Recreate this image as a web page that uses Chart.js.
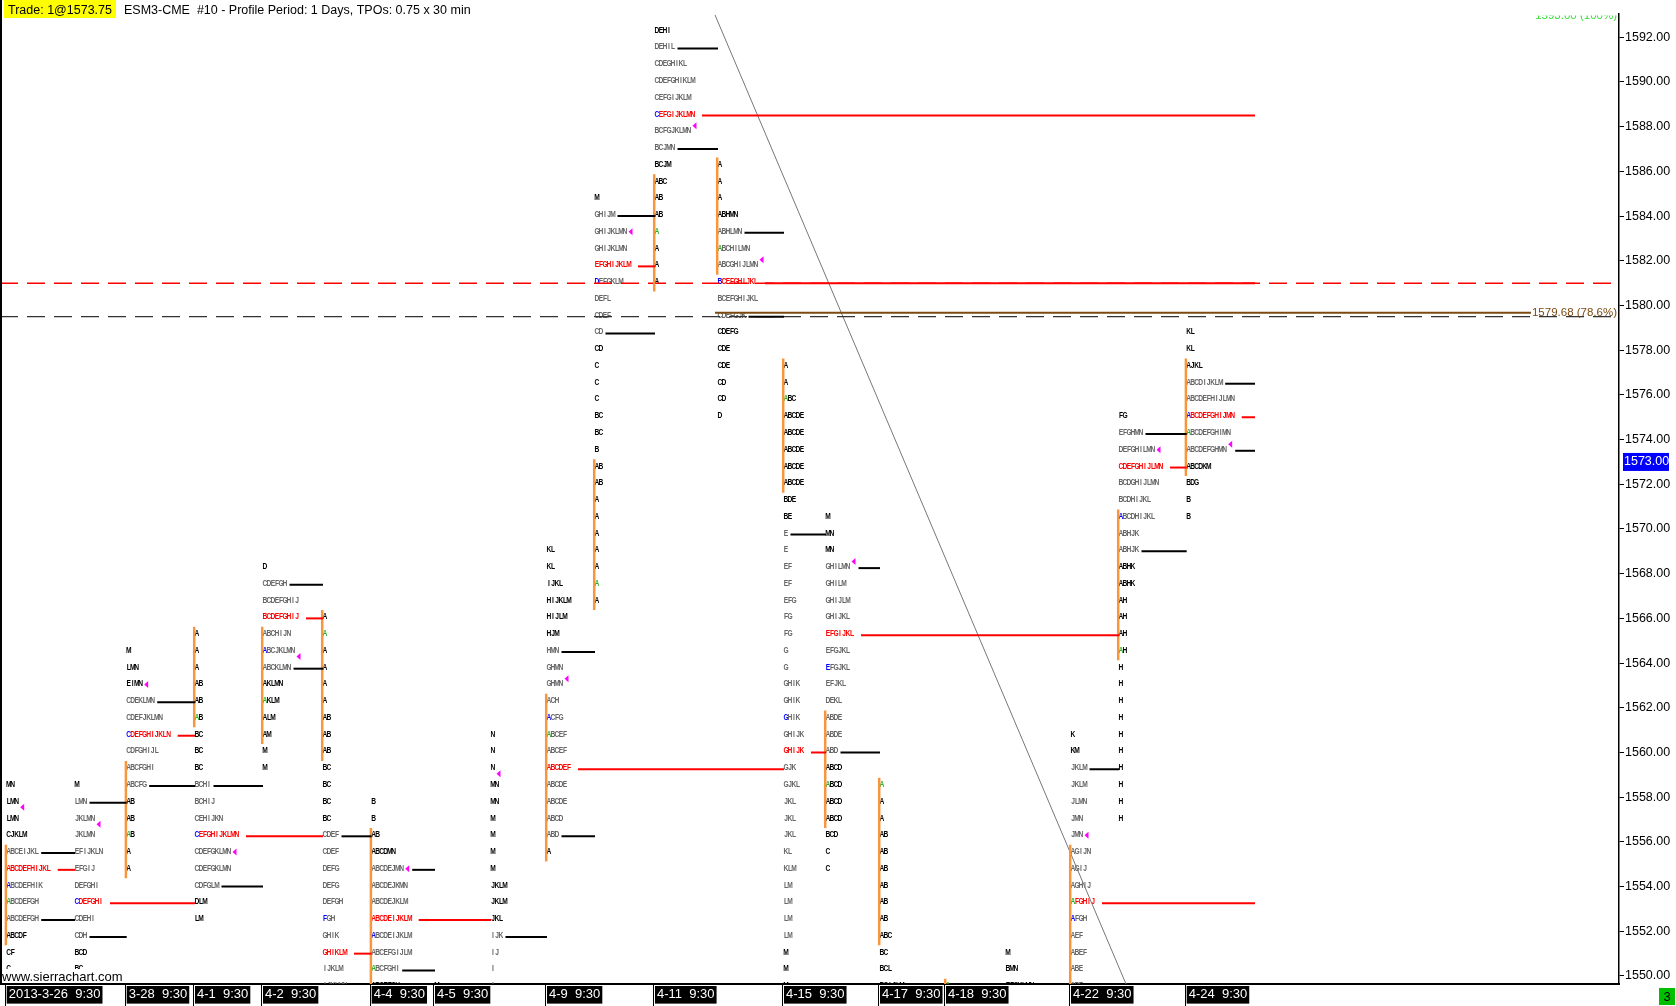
<!DOCTYPE html>
<html>
<head>
<meta charset="utf-8">
<title>ESM3-CME TPO profile</title>
<script src="https://cdn.jsdelivr.net/npm/chart.js@4.4.1/dist/chart.umd.min.js"></script>
<style>
html, body { margin: 0; padding: 0; background: #fff; overflow: hidden; }
canvas { display: block; }
</style>
</head>
<body>
<canvas id="tpo" width="1676" height="1006"></canvas>
<script>
// TPO rows of each day, listed from the top price down in 0.75 steps
const tpoSize = 0.75
const days = ['3-26','3-27','3-28','4-1','4-2','4-3','4-4','4-5','4-8','4-9','4-10','4-11','4-12','4-15','4-16','4-17','4-18','4-19','4-22','4-23','4-24']
const dayStart = [6.7, 75, 126.7, 195, 263, 323, 371.7, 435, 491, 547, 595, 655, 718, 784, 826, 880, 946, 1006, 1071, 1119, 1186.7]
const dayTop = [1558.5, 1558.5, 1564.5, 1565.25, 1568.25, 1566.0, 1557.75, 1549.5, 1560.75, 1569.0, 1584.75, 1592.25, 1586.25, 1577.25, 1570.5, 1558.5, 1549.5, 1551.0, 1560.75, 1575.0, 1578.75]
const dayRows = [
	['MN','LMN','LMN','CJKLM','ABCEIJKL','ABCDEFHIJKL','ABCDEFHIK','ABCDEFGH','ABCDEFGH','ABCDF','CF','C','C'],
	['M','LMN','JKLMN','JKLMN','EFIJKLN','EFGIJ','DEFGHI','CDEFGHI','CDEHI','CDH','BCD','BC','BC'],
	['M','LMN','EIMN','CDEKLMN','CDEFJKLMN','CDEFGHIJKLN','CDFGHIJL','ABCFGHI','ABCFG','AB','AB','AB','A','A'],
	['A','A','A','AB','AB','AB','BC','BC','BC','BCHI','BCHIJ','CEHIJKN','CEFGHIJKLMN','CDEFGKLMN','CDEFGKLMN','CDFGLM','DLM','LM'],
	['D','CDEFGH','BCDEFGHIJ','BCDEFGHIJ','ABCHIJN','ABCJKLMN','ABCKLMN','AKLMN','AKLM','ALM','AM','M','M'],
	['A','A','A','A','A','A','AB','AB','AB','BC','BC','BC','BC','CDEF','CDEF','DEFG','DEFG','DEFGH','FGH','GHIK','GHIKLM','IJKLM','IJKLMN'],
	['B','B','AB','ABCDMN','ABCDEJMN','ABCDEJKMN','ABCDEJKLM','ABCDEIJKLM','ABCDEIJKLM','ABCEFGIJLM','ABCFGHI','ABCEFGH'],
	['M','LM'],
	['N','N','N','MN','MN','M','M','M','M','JKLM','JKLM','JKL','IJK','IJ','I','I'],
	['KL','KL','IJKL','HIJKLM','HIJLM','HJM','HMN','GHMN','GHMN','ACH','ACFG','ABCEF','ABCEF','ABCDEF','ABCDE','ABCDE','ABCD','ABD','A'],
	['M','GHIJM','GHIJKLMN','GHIJKLMN','EFGHIJKLM','DEFGKLM','DEFL','CDEF','CD','CD','C','C','C','BC','BC','B','AB','AB','A','A','A','A','A','A','A'],
	['DEHI','DEHIL','CDEGHIKL','CDEFGHIKLM','CEFGIJKLM','CEFGIJKLMN','BCFGJKLMN','BCJMN','BCJM','ABC','AB','AB','A','A','A','A'],
	['A','A','A','ABHMN','ABHLMN','ABCHILMN','ABCGHIJLMN','BCEFGHIJKL','BCEFGHIJKL','CDEFGJK','CDEFG','CDE','CDE','CD','CD','D'],
	['A','A','ABC','ABCDE','ABCDE','ABCDE','ABCDE','ABCDE','BDE','BE','E','E','EF','EF','EFG','FG','FG','G','G','GHIK','GHIK','GHIK','GHIJK','GHIJK','GJK','GJKL','JKL','JKL','JKL','KL','KLM','LM','LM','LM','LM','M','M','M'],
	['M','MN','MN','GHILMN','GHILM','GHIJLM','GHIJKL','EFGIJKL','EFGJKL','EFGJKL','EFJKL','DEKL','ABDE','ABDE','ABD','ABCD','ABCD','ABCD','ABCD','BCD','C','C'],
	['A','A','A','AB','AB','AB','AB','AB','AB','ABC','BC','BCL','BCIJLM'],
	['A','A'],
	['M','BMN','EFGKLMN'],
	['K','KM','JKLM','JKLM','JLMN','JMN','JMN','AGIJN','AGIJ','AGHIJ','AFGHIJ','AFGH','AEF','ABEF','ABE','ABE'],
	['FG','EFGHMN','DEFGHILMN','CDEFGHIJLMN','BCDGHIJLMN','BCDHIJKL','ABCDHIJKL','ABHJK','ABHJK','ABHK','ABHK','AH','AH','AH','AH','H','H','H','H','H','H','H','H','H','H'],
	['KL','KL','AJKL','ABCDIJKLM','ABCDEFHIJLMN','ABCDEFGHIJMN','ABCDEFGHIMN','ABCDEFGHMN','ABCDKM','BDG','B','B']
]
// value area high / low, point of control, close (null = off the picture)
const dayVAH = [1555.5, 1557.75, 1562.25, 1558.5, 1567.5, 1556.25, 1554.75, null, 1551.75, 1564.5, 1584.0, 1591.5, 1583.25, 1569.75, 1568.25, null, null, null, 1559.25, 1574.25, 1576.5]
const dayVAL = [1552.5, 1551.75, 1558.5, 1554.0, 1563.75, null, 1550.25, null, null, 1556.25, 1578.75, 1587.0, 1579.5, 1551.75, 1560.0, null, null, null, null, 1569.0, 1573.5]
const dayPOC = [1554.75, 1553.25, 1560.75, 1556.25, 1566.0, 1551.0, 1552.5, null, null, 1559.25, 1581.75, 1588.5, 1581.0, 1560.0, 1565.25, null, null, null, 1553.25, 1572.75, 1575.0]
const dayClose = [1557.5, 1556.75, 1563.0, 1555.5, 1564.25, null, 1554.75, null, 1559.0, 1563.25, 1583.25, 1588.0, 1582.0, null, 1568.5, null, null, null, 1556.25, 1573.5, 1573.75]
const dayOpenRow = [1553.25, null, 1556.25, 1561.5, 1562.25, 1565.25, 1550.25, null, null, 1560.75, 1567.5, 1583.25, 1582.5, 1575.75, 1558.5, 1558.5, 1549.5, null, 1553.25, 1564.5, 1574.25]
const dayBlueRow = [1554.0, 1553.25, 1560.75, 1556.25, 1564.5, 1552.5, 1551.75, null, null, 1561.5, 1581.0, 1588.5, 1581.0, 1561.5, 1563.75, null, null, null, 1552.5, 1570.5, 1575.0]
const hiddenVALine = ['4-15']
const lastBarX = 1255

const axisDays = ['3-26','3-28','4-1','4-2','4-4','4-5','4-9','4-11','4-15','4-17','4-18','4-22','4-24']
const axisLabels = ['2013-3-26  9:30','3-28  9:30','4-1  9:30','4-2  9:30','4-4  9:30','4-5  9:30','4-9  9:30','4-11  9:30','4-15  9:30','4-17  9:30','4-18  9:30','4-22  9:30','4-24  9:30']
const priceTicks = [1550,1552,1554,1556,1558,1560,1562,1564,1566,1568,1570,1572,1574,1576,1578,1580,1582,1584,1586,1588,1590,1592]

const redDashPrice = 1581.0
const grayDashPrice = 1579.5
const fibFrom = {x: 715, y: 1593.00}
const fibTo = {x: 1305, y: 1530.76}
const fibTopText = '1593.00 (100%)'
const fibLevel = 1579.68
const fibLevelText = '1579.68 (78.6%)'
const lastPrice = 1573.00
const titleTrade = 'Trade: 1@1573.75'
const titleText = 'ESM3-CME  #10 - Profile Period: 1 Days, TPOs: 0.75 x 30 min'

const xMax = 1619
const yMin = 1549.642, yMax = 1593.0425
const cell = 4
const GRAY = '#666', BLACK = '#000', RED = '#ff0000', GREEN = '#22b022', BLUE = '#0000ff'
const ORANGE = '#f7963c', MAGENTA = '#ff00ff', BROWN = '#7b4a12'

function same(a, b) { return a !== null && Math.abs(a - b) < 0.01 }
function rowPrice(k, i) { return dayTop[k] - i * tpoSize }
function dayBottom(k) { return rowPrice(k, dayRows[k].length - 1) }
function rowAt(k, p) { return Math.round((dayTop[k] - p) / tpoSize) }
function closeRow(k) { return dayClose[k] === null ? -1 : rowAt(k, dayClose[k]) }
function inVA(k, p) { return dayVAH[k] !== null && p <= dayVAH[k] + 0.01 && (dayVAL[k] === null || p >= dayVAL[k] - 0.01) }
function rowEnd(k, p) {
	const i = rowAt(k, p)
	let e = dayStart[k] + dayRows[k][i].length * cell
	if (closeRow(k) === i) e += 6
	return e
}
function nextStart(k) { return k + 1 < days.length ? dayStart[k + 1] : lastBarX }
function pocEnd(k, p) {
	for (let n = k + 1; n < days.length; n++)
		if (p <= dayTop[n] + 0.01 && p >= dayBottom(n) - 0.01) return dayStart[n]
	return lastBarX
}
function letterColor(k, p, j) {
	if (j === 0 && same(dayOpenRow[k], p)) return GREEN
	if (j === 0 && same(dayBlueRow[k], p)) return BLUE
	if (same(dayPOC[k], p)) return RED
	return inVA(k, p) ? GRAY : BLACK
}

const datasets = []
function seg(x1, y1, x2, y2, color, width, dash) {
	datasets.push({
		data: [{x: x1, y: y1}, {x: x2, y: y2}],
		borderColor: color, borderWidth: width, borderDash: dash || [],
		pointRadius: 0, fill: false, tension: 0
	})
}

days.forEach((d, k) => {
	// opening range (rows holding an A)
	const aRows = dayRows[k].map((r, i) => r.includes('A') ? rowPrice(k, i) : null).filter(v => v !== null)
	if (aRows.length)
		seg(dayStart[k] - 0.8, Math.max(...aRows) + tpoSize / 2, dayStart[k] - 0.8, Math.min(...aRows) - tpoSize / 2, ORANGE, 2.5)
	if (dayVAH[k] !== null)
		seg(rowEnd(k, dayVAH[k]) + 2.5, dayVAH[k], nextStart(k), dayVAH[k], BLACK, 2)
	if (dayVAL[k] !== null && !hiddenVALine.includes(d))
		seg(rowEnd(k, dayVAL[k]) + 2.5, dayVAL[k], nextStart(k), dayVAL[k], BLACK, 2)
	if (dayPOC[k] !== null)
		seg(rowEnd(k, dayPOC[k]) + 7, dayPOC[k], pocEnd(k, dayPOC[k]), dayPOC[k], RED, 2)
})
seg(0, redDashPrice, xMax, redDashPrice, RED, 1.5, [18, 9])
seg(0, grayDashPrice, xMax, grayDashPrice, '#333', 1.3, [18, 9])
seg(fibFrom.x, fibFrom.y, fibTo.x, fibTo.y, '#777', 1)

const tpoPlugin = {
	id: 'tpo',
	beforeDatasetsDraw(chart) {
		const {ctx, chartArea: a, scales: {x, y}} = chart
		const cw = x.getPixelForValue(cell) - x.getPixelForValue(0)
		ctx.save()
		ctx.beginPath()
		ctx.rect(a.left, a.top, a.right - a.left, a.bottom - a.top)
		ctx.clip()
		ctx.font = 'bold 9px "Liberation Sans", Arial, sans-serif'
		ctx.textAlign = 'center'
		ctx.textBaseline = 'middle'
		days.forEach((d, k) => {
			const px = x.getPixelForValue(dayStart[k])
			dayRows[k].forEach((row, i) => {
				const p = rowPrice(k, i)
				const py = y.getPixelForValue(p) - 1.5
				for (let j = 0; j < row.length; j++) {
					ctx.fillStyle = letterColor(k, p, j)
					ctx.save()
					ctx.translate(px + (j + 0.5) * cw, py)
					ctx.scale(0.74, 1)
					ctx.fillText(row[j], 0, 0)
					ctx.restore()
				}
			})
			if (dayClose[k] !== null) {
				const row = dayRows[k][closeRow(k)]
				const tx = x.getPixelForValue(dayStart[k] + row.length * cell) + 1.5
				const ty = y.getPixelForValue(dayClose[k]) - 1
				ctx.fillStyle = MAGENTA
				ctx.beginPath()
				ctx.moveTo(tx, ty)
				ctx.lineTo(tx + 4, ty - 3.5)
				ctx.lineTo(tx + 4, ty + 3.5)
				ctx.closePath()
				ctx.fill()
			}
		})
		ctx.restore()
	},
	afterDatasetsDraw(chart) {
		const {ctx, chartArea: a, scales: {x, y}} = chart
		ctx.save()
		ctx.beginPath()
		ctx.rect(a.left, a.top + 1.5, a.right - a.left, a.bottom - a.top)
		ctx.clip()
		ctx.font = '11.5px "Liberation Sans", Arial, sans-serif'
		ctx.textAlign = 'right'
		ctx.textBaseline = 'middle'
		// fib level and labels
		const ly = y.getPixelForValue(fibLevel)
		const lw = ctx.measureText(fibLevelText).width
		ctx.strokeStyle = BROWN
		ctx.lineWidth = 2
		ctx.beginPath()
		ctx.moveTo(x.getPixelForValue(fibFrom.x), ly)
		ctx.lineTo(a.right - 3 - lw, ly)
		ctx.stroke()
		ctx.fillStyle = BROWN
		ctx.fillText(fibLevelText, a.right - 2, ly)
		ctx.fillStyle = '#33dd33'
		ctx.fillText(fibTopText, a.right - 2, y.getPixelForValue(fibFrom.y) + 1)
		ctx.restore()
	},
	afterDraw(chart) {
		const {ctx, chartArea: a, scales: {y}} = chart
		ctx.save()
		ctx.fillStyle = '#000'
		ctx.fillRect(0, 0, 2, a.bottom)
		ctx.font = '12.5px "Liberation Sans", Arial, sans-serif'
		ctx.textBaseline = 'alphabetic'
		ctx.textAlign = 'left'
		const tw = ctx.measureText(titleTrade).width
		ctx.fillStyle = '#ffff00'
		ctx.fillRect(4, 0, tw + 8, 18)
		ctx.fillStyle = '#000'
		ctx.fillText(titleTrade, 8, 14)
		ctx.fillText(titleText, tw + 20, 14)
		// site mark
		ctx.font = '13px "Liberation Sans", Arial, sans-serif'
		const sw = ctx.measureText('www.sierrachart.com').width
		ctx.fillStyle = '#fff'
		ctx.fillRect(2, a.bottom - 15, sw + 2, 14)
		ctx.fillStyle = '#000'
		ctx.fillText('www.sierrachart.com', 2, a.bottom - 3)
		// last price box on the price axis
		const py = y.getPixelForValue(lastPrice)
		ctx.font = '12.5px "Liberation Sans", Arial, sans-serif'
		ctx.fillStyle = '#0000ff'
		ctx.fillRect(a.right + 4, py - 9, 46, 18)
		ctx.fillStyle = '#fff'
		ctx.textBaseline = 'middle'
		ctx.fillText(lastPrice.toFixed(2), a.right + 5, py)
		// green counter box
		ctx.fillStyle = '#00c000'
		ctx.fillRect(1659, 988, 16, 17)
		ctx.fillStyle = '#000'
		ctx.textAlign = 'center'
		ctx.font = '13px "Liberation Sans", Arial, sans-serif'
		ctx.fillText('3', 1667, 997)
		ctx.restore()
	}
}

new Chart(document.getElementById('tpo'), {
	type: 'line',
	data: { datasets: datasets },
	options: {
		responsive: false,
		animation: false,
		devicePixelRatio: 1,
		events: [],
		layout: { padding: { top: 14, left: 0, right: 0, bottom: 0 } },
		plugins: { legend: { display: false }, tooltip: { enabled: false } },
		scales: {
			x: {
				type: 'linear', position: 'bottom', min: 0, max: xMax,
				afterFit: s => { s.height = 22 },
				afterBuildTicks: s => { s.ticks = axisDays.map(d => ({ value: dayStart[days.indexOf(d)] - 1.5 })) },
				grid: { drawOnChartArea: false, drawTicks: true, tickLength: 22, color: '#000', lineWidth: 1 },
				border: { display: true, color: '#000', width: 2 },
				ticks: {
					autoSkip: false, maxRotation: 0, minRotation: 0, align: 'start', labelOffset: 3.5,
					padding: -19, color: '#fff', showLabelBackdrop: true, backdropColor: '#000',
					backdropPadding: { left: 2, right: 2, top: 1, bottom: 1 },
					font: { family: '"Liberation Sans", Arial, sans-serif', size: 13 },
					callback: (v, i) => axisLabels[i]
				}
			},
			y: {
				type: 'linear', position: 'right', min: yMin, max: yMax,
				afterFit: s => { s.width = 57 },
				afterBuildTicks: s => { s.ticks = priceTicks.map(v => ({ value: v })) },
				grid: { drawOnChartArea: false, drawTicks: true, tickLength: 5, color: '#000' },
				border: { display: true, color: '#000', width: 1.5 },
				ticks: {
					autoSkip: false, padding: 1, color: '#000',
					font: { family: '"Liberation Sans", Arial, sans-serif', size: 12.5 },
					callback: v => Number(v).toFixed(2)
				}
			}
		}
	},
	plugins: [tpoPlugin]
})
</script>
</body>
</html>
